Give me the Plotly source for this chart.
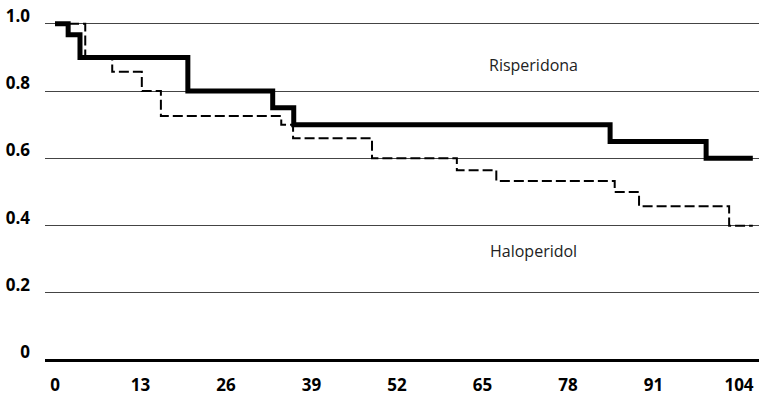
import plotly.graph_objects as go

# Risperidona (solid)
ris_weeks = [0, 2.0, 3.8, 20.2, 33.1, 36.3, 84.4, 99.0, 106.1]
ris_surv = [1.0, 0.967, 0.9, 0.8, 0.75, 0.7, 0.65, 0.6, 0.6]

# Haloperidol (dashed)
hal_weeks = [0, 4.6, 8.7, 13.2, 16.1, 34.4, 36.2, 48.2, 61.1, 67.1, 85.1, 88.8, 102.5, 106.1]
hal_surv = [1.0, 0.9, 0.857, 0.8, 0.726, 0.7, 0.66, 0.6, 0.565, 0.533, 0.5, 0.458, 0.4, 0.4]

x_ticks = [0, 13, 26, 39, 52, 65, 78, 91, 104]
y_ticks = [0, 0.2, 0.4, 0.6, 0.8, 1.0]
y_tick_labels = ["0", "0.2", "0.4", "0.6", "0.8", "1.0"]

fig = go.Figure()
fig.add_trace(go.Scatter(x=hal_weeks, y=hal_surv, mode="lines", line_shape="hv",
                         line=dict(color="black", width=2, dash="10px,4px"),
                         showlegend=False, hoverinfo="skip"))
fig.add_trace(go.Scatter(x=ris_weeks, y=ris_surv, mode="lines", line_shape="hv",
                         line=dict(color="black", width=5),
                         showlegend=False, hoverinfo="skip"))

fig.add_annotation(x=72.8, y=0.878, text="Risperidona", showarrow=False,
                   font=dict(family="Open Sans", size=16, color="#222222"))
fig.add_annotation(x=72.8, y=0.324, text="Haloperidol", showarrow=False,
                   font=dict(family="Open Sans", size=16, color="#222222"))

tickfont = dict(family="Open Sans", size=17, color="black", weight="bold")

fig.update_layout(
    width=759, height=395,
    margin=dict(l=45, r=0, t=17, b=28),
    paper_bgcolor="white", plot_bgcolor="white",
    xaxis=dict(range=[-1.52, 107.04], tickvals=x_ticks, showgrid=False,
               zeroline=False, showline=False, ticks="", tickfont=tickfont,
               ticklabelstandoff=6, automargin=False, fixedrange=True),
    yaxis=dict(range=[-0.02, 1.02], tickvals=y_ticks, ticktext=y_tick_labels,
               showgrid=True, gridcolor="#444444", gridwidth=1,
               zeroline=True, zerolinecolor="black", zerolinewidth=3,
               showline=False, ticks="", tickfont=tickfont,
               ticklabelstandoff=14, ticklabelshift=-8, automargin=False,
               fixedrange=True),
)

# remove the default 8px page margin so the figure fills the window
fig.write_html("out.html", config={"displayModeBar": False},
               post_script="document.body.style.margin='0';document.body.style.overflow='hidden';")
